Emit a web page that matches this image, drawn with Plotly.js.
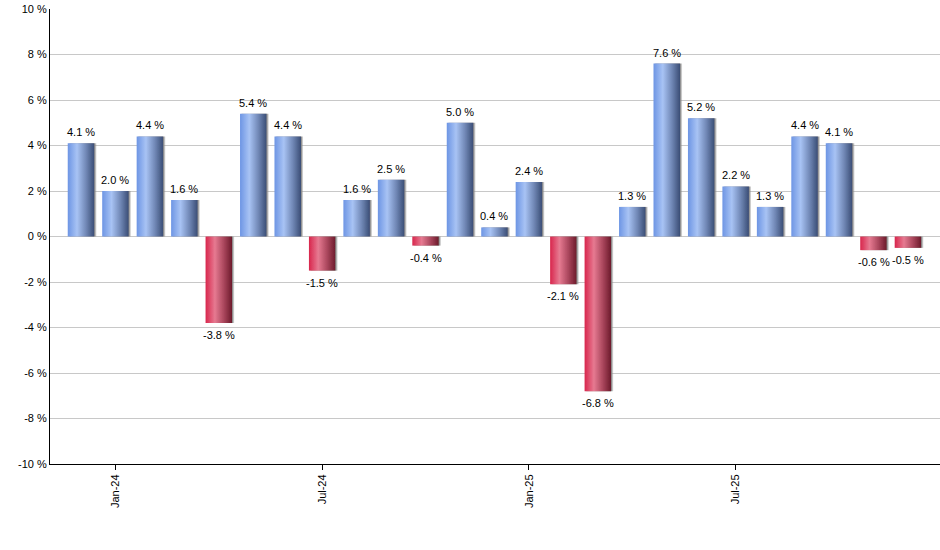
<!DOCTYPE html>
<html>
<head>
<meta charset="utf-8">
<script src="https://cdn.plot.ly/plotly-3.0.1.min.js"></script>
<style>
html,body{margin:0;padding:0;background:#fff;}
#chart{width:940px;height:550px;}
</style>
</head>
<body>
<div id="chart"></div>
<script>
const months = ["Dec-23","Jan-24","Feb-24","Mar-24","Apr-24","May-24","Jun-24","Jul-24","Aug-24","Sep-24","Oct-24","Nov-24","Dec-24","Jan-25","Feb-25","Mar-25","Apr-25","May-25","Jun-25","Jul-25","Aug-25","Sep-25","Oct-25","Nov-25","Dec-25"];
const returns = [4.1, 2.0, 4.4, 1.6, -3.8, 5.4, 4.4, -1.5, 1.6, 2.5, -0.4, 5.0, 0.4, 2.4, -2.1, -6.8, 1.3, 7.6, 5.2, 2.2, 1.3, 4.4, 4.1, -0.6, -0.5];
const tickMonths = ["Jan-24","Jul-24","Jan-25","Jul-25"];
const yTicks = [-10,-8,-6,-4,-2,0,2,4,6,8,10];

const font = 'Arial, "Liberation Sans", sans-serif';

const trace = {
  type: 'bar',
  x: months,
  y: returns,
  width: 0.77,
  marker: {color: returns.map(v => v >= 0 ? '#7f9fe0' : '#c83a5a'), line: {width: 0}},
  hoverinfo: 'none'
};

const annotations = months.map((m, i) => ({
  x: m, y: returns[i], xref: 'x', yref: 'y',
  text: returns[i].toFixed(1) + ' %',
  showarrow: false,
  yanchor: returns[i] >= 0 ? 'bottom' : 'top',
  yshift: returns[i] >= 0 ? 3 : -4,
  font: {family: font, size: 11, color: '#000'}
}));

const layout = {
  width: 940, height: 550,
  margin: {l: 50, r: 0, t: 9, b: 86},
  paper_bgcolor: '#fff', plot_bgcolor: '#fff',
  showlegend: false,
  annotations: annotations,
  xaxis: {
    type: 'category',
    range: [-0.9, 24.93],
    tickmode: 'array',
    tickvals: tickMonths,
    ticktext: tickMonths,
    tickangle: -90,
    ticks: 'outside', ticklen: 5, tickcolor: '#000', tickwidth: 1,
    showline: true, linecolor: '#000', linewidth: 1,
    showgrid: false,
    tickfont: {family: font, size: 11, color: '#000'}
  },
  yaxis: {
    range: [-10, 10],
    tickmode: 'array',
    tickvals: yTicks,
    ticktext: yTicks.map(v => v + ' %'),
    ticks: '',
    showline: true, linecolor: '#000', linewidth: 1,
    showgrid: true, gridcolor: '#c8c8c8', gridwidth: 1,
    zeroline: false,
    tickfont: {family: font, size: 11, color: '#000'}
  }
};

Plotly.newPlot('chart', [trace], layout, {staticPlot: true, displayModeBar: false}).then(gd => {
  const svg = gd.querySelector('svg.main-svg');
  const ns = 'http://www.w3.org/2000/svg';
  let defs = svg.querySelector('defs');
  if (!defs) { defs = document.createElementNS(ns, 'defs'); svg.insertBefore(defs, svg.firstChild); }
  function grad(id, stops) {
    const g = document.createElementNS(ns, 'linearGradient');
    g.setAttribute('id', id);
    g.setAttribute('x1', '0'); g.setAttribute('x2', '1'); g.setAttribute('y1', '0'); g.setAttribute('y2', '0');
    stops.forEach(([o, c]) => {
      const s = document.createElementNS(ns, 'stop');
      s.setAttribute('offset', o); s.setAttribute('stop-color', c);
      g.appendChild(s);
    });
    defs.appendChild(g);
  }
  grad('gBlue', [[0, '#6d95e4'], [0.35, '#a8c3f4'], [0.7, '#6f86b4'], [1, '#3a4d75']]);
  grad('gRed', [[0, '#d8254c'], [0.35, '#e67a91'], [0.7, '#a8455b'], [1, '#6c1a2b']]);
  const f = document.createElementNS(ns, 'filter');
  f.setAttribute('id', 'shd'); f.setAttribute('x', '-10%'); f.setAttribute('y', '-10%'); f.setAttribute('width', '130%'); f.setAttribute('height', '120%');
  const ds = document.createElementNS(ns, 'feDropShadow');
  ds.setAttribute('dx', '1.5'); ds.setAttribute('dy', '0'); ds.setAttribute('stdDeviation', '0.4');
  ds.setAttribute('flood-color', '#888'); ds.setAttribute('flood-opacity', '0.9');
  f.appendChild(ds); defs.appendChild(f);
  const paths = gd.querySelectorAll('.trace.bars .point path');
  paths.forEach((p, i) => {
    p.style.fill = returns[i] >= 0 ? 'url(#gBlue)' : 'url(#gRed)';
    p.setAttribute('filter', 'url(#shd)');
  });
});
</script>
</body>
</html>
